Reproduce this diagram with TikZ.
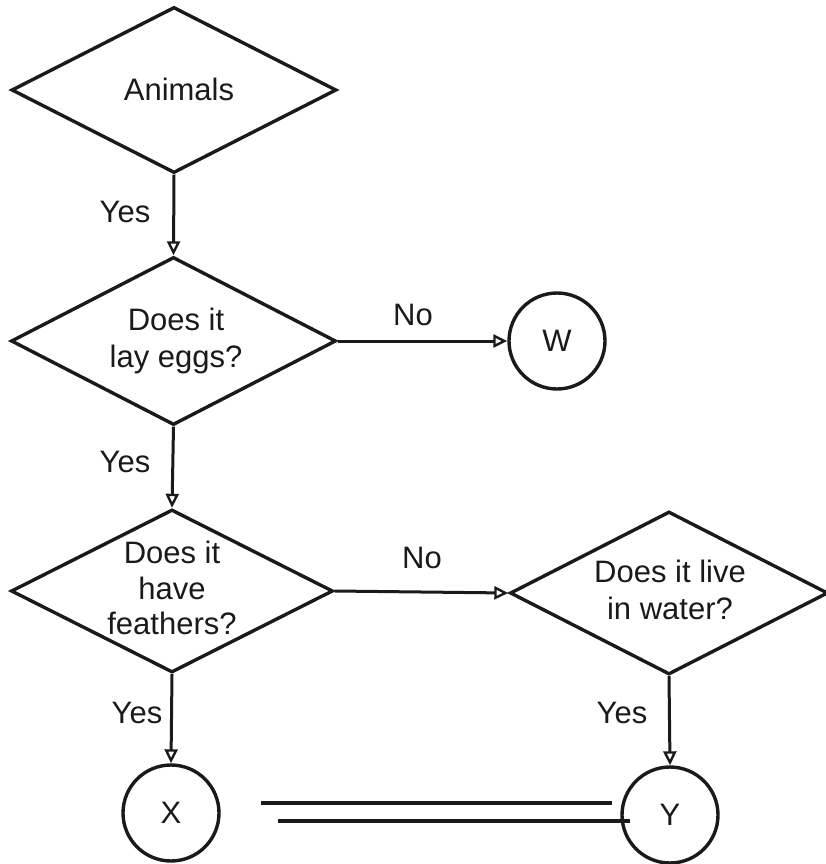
\documentclass[tikz,border=0pt]{standalone}
\usepackage{fontspec}
\setmainfont{Liberation Sans}
\usetikzlibrary{shapes.geometric,arrows.meta}
\definecolor{ink}{HTML}{1A1A1A}
\tikzset{
  dia/.style={shape=diamond, draw=ink, line width=3.4pt, inner sep=0pt,
    minimum width=325pt, minimum height=166pt},
  txt/.style={align=center, text=ink, inner sep=0pt,
    font=\fontsize{31}{37}\selectfont},
  circ/.style={shape=circle, draw=ink, line width=3.4pt, minimum size=96pt,
    inner sep=0pt, text=ink, font=\fontsize{31}{37}\selectfont},
  lbl/.style={text=ink, font=\fontsize{31}{37}\selectfont, inner sep=0pt},
  conn/.style={draw=ink, line width=3pt,
    -{Triangle[open, length=14pt, width=13pt, line width=2.4pt]}},
  plain/.style={draw=ink, line width=3.4pt}
}
\begin{document}
\begin{tikzpicture}[x=1pt, y=-1pt]
\useasboundingbox (0,0) rectangle (825,864);
% decision nodes
\node[dia] (animals) at (174,90) {};
\node[txt] (animalsT) at (179,89) {Animals};
\node[dia, minimum height=168pt] (eggs) at (173.5,341) {};
\node[txt] (eggsT) at (176,341) {Does it\\lay eggs?};
\node[dia, minimum width=322pt, minimum height=163pt] (feath) at (172,591) {};
\node[txt, font=\fontsize{31}{35.5}\selectfont] (feathT) at (172,588) {Does it\\have\\feathers?};
\node[dia, minimum width=318pt, minimum height=163pt] (water) at (669,593) {};
\node[txt] (waterT) at (670,590) {Does it live\\in water?};
% terminal nodes
\node[circ] (W) at (557,341) {W};
\node[circ] (X) at (171,813) {X};
\node[circ] (Y) at (670,815) {Y};
% labels
\node[lbl] (yes1) at (125,212) {Yes};
\node[lbl] (yes2) at (125,462) {Yes};
\node[lbl] (yes3) at (137,713) {Yes};
\node[lbl] (yes4) at (622,713) {Yes};
\node[lbl] (no1) at (413,315) {No};
\node[lbl] (no2) at (422,558) {No};
% connectors
\draw[conn] (animals.south) -- (eggs.north);
\draw[conn] (eggs.east) -- (W.west);
\draw[conn] (eggs.south) -- (feath.north);
\draw[conn] (feath.east) -- (water.west);
\draw[conn] (feath.south) -- (X.north);
\draw[conn] (water.south) -- (Y.north);
% double line at the bottom
\coordinate (l1a) at (261,803);
\coordinate (l1b) at (612,803);
\coordinate (l2a) at (278,821);
\coordinate (l2b) at (630,821);
\draw[plain] (l1a) -- (l1b);
\draw[plain] (l2a) -- (l2b);
\end{tikzpicture}
\end{document}
